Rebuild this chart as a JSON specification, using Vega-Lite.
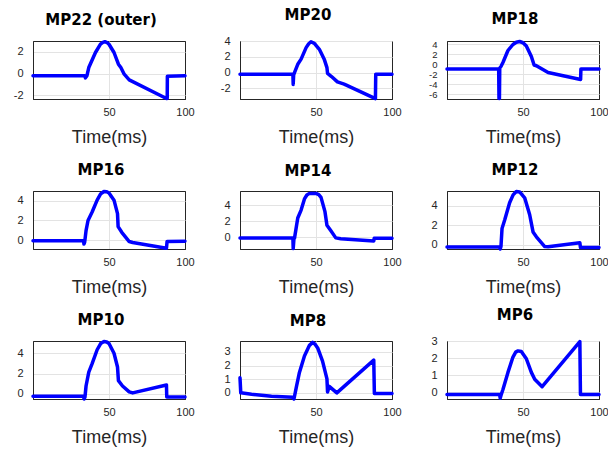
{
  "$schema": "https://vega.github.io/schema/vega-lite/v6.json",
  "padding": {"left": 12, "top": 7, "right": 0, "bottom": 0},
  "background": "white",
  "datasets": {
    "d": [
      {"p": "MP22", "t": 0, "v": -0.2}, {"p": "MP22", "t": 34, "v": -0.2}, {"p": "MP22", "t": 34.5, "v": -0.4}, {"p": "MP22", "t": 35.5, "v": -0.2}, {"p": "MP22", "t": 36.7, "v": 0.55}, {"p": "MP22", "t": 41.1, "v": 1.94}, {"p": "MP22", "t": 44.4, "v": 2.71}, {"p": "MP22", "t": 46, "v": 2.88}, {"p": "MP22", "t": 47.3, "v": 2.94}, {"p": "MP22", "t": 48.7, "v": 2.86}, {"p": "MP22", "t": 50, "v": 2.7}, {"p": "MP22", "t": 53.3, "v": 1.94}, {"p": "MP22", "t": 56.2, "v": 0.86}, {"p": "MP22", "t": 57.8, "v": 0.55}, {"p": "MP22", "t": 60, "v": -0.06}, {"p": "MP22", "t": 63.3, "v": -0.58}, {"p": "MP22", "t": 87.8, "v": -2.3}, {"p": "MP22", "t": 88.3, "v": -2.3}, {"p": "MP22", "t": 88.4, "v": -0.25}, {"p": "MP22", "t": 100, "v": -0.2},

      {"p": "MP20", "t": 0, "v": -0.2}, {"p": "MP20", "t": 34.8, "v": -0.2}, {"p": "MP20", "t": 35, "v": -1.5}, {"p": "MP20", "t": 35.3, "v": -0.3}, {"p": "MP20", "t": 36.3, "v": 0.2}, {"p": "MP20", "t": 38, "v": 1.05}, {"p": "MP20", "t": 40.2, "v": 1.7}, {"p": "MP20", "t": 43.5, "v": 3.16}, {"p": "MP20", "t": 45.2, "v": 3.65}, {"p": "MP20", "t": 46.7, "v": 3.9}, {"p": "MP20", "t": 48.9, "v": 3.7}, {"p": "MP20", "t": 52.2, "v": 2.95}, {"p": "MP20", "t": 55.4, "v": 1.7}, {"p": "MP20", "t": 57.2, "v": 0.63}, {"p": "MP20", "t": 57.6, "v": -0.1}, {"p": "MP20", "t": 60.2, "v": -0.5}, {"p": "MP20", "t": 64.1, "v": -1.18}, {"p": "MP20", "t": 68.5, "v": -1.47}, {"p": "MP20", "t": 89.1, "v": -3.3}, {"p": "MP20", "t": 89.3, "v": -0.2}, {"p": "MP20", "t": 100, "v": -0.2},

      {"p": "MP18", "t": 0, "v": -1.0}, {"p": "MP18", "t": 34, "v": -1.0}, {"p": "MP18", "t": 34.2, "v": -6.9}, {"p": "MP18", "t": 34.5, "v": -6.9}, {"p": "MP18", "t": 34.7, "v": -0.8}, {"p": "MP18", "t": 35.5, "v": -0.5}, {"p": "MP18", "t": 36.8, "v": 0.3}, {"p": "MP18", "t": 40.1, "v": 2.7}, {"p": "MP18", "t": 43.4, "v": 3.9}, {"p": "MP18", "t": 45.6, "v": 4.35}, {"p": "MP18", "t": 47.8, "v": 4.5}, {"p": "MP18", "t": 50, "v": 4.25}, {"p": "MP18", "t": 52.2, "v": 3.6}, {"p": "MP18", "t": 55.5, "v": 1.5}, {"p": "MP18", "t": 57.3, "v": -0.2}, {"p": "MP18", "t": 58.8, "v": -0.35}, {"p": "MP18", "t": 66.5, "v": -1.7}, {"p": "MP18", "t": 87.9, "v": -3.1}, {"p": "MP18", "t": 88.1, "v": -1.0}, {"p": "MP18", "t": 100, "v": -1.0},

      {"p": "MP16", "t": 0, "v": -0.05}, {"p": "MP16", "t": 33.3, "v": -0.05}, {"p": "MP16", "t": 33.5, "v": -0.4}, {"p": "MP16", "t": 34, "v": -0.2}, {"p": "MP16", "t": 34.9, "v": 0.97}, {"p": "MP16", "t": 36.2, "v": 2}, {"p": "MP16", "t": 38.9, "v": 2.86}, {"p": "MP16", "t": 42.2, "v": 4.07}, {"p": "MP16", "t": 44.5, "v": 4.7}, {"p": "MP16", "t": 46.7, "v": 4.95}, {"p": "MP16", "t": 48.5, "v": 4.93}, {"p": "MP16", "t": 50, "v": 4.8}, {"p": "MP16", "t": 53.3, "v": 4.07}, {"p": "MP16", "t": 55.6, "v": 2.7}, {"p": "MP16", "t": 56, "v": 1.38}, {"p": "MP16", "t": 58.4, "v": 0.8}, {"p": "MP16", "t": 63.3, "v": -0.14}, {"p": "MP16", "t": 65.6, "v": -0.24}, {"p": "MP16", "t": 87.8, "v": -0.83}, {"p": "MP16", "t": 88.2, "v": -0.14}, {"p": "MP16", "t": 100, "v": -0.1},

      {"p": "MP14", "t": 0, "v": -0.1}, {"p": "MP14", "t": 34.8, "v": -0.1}, {"p": "MP14", "t": 35, "v": -1.45}, {"p": "MP14", "t": 35.5, "v": -0.2}, {"p": "MP14", "t": 35.9, "v": -0.1}, {"p": "MP14", "t": 38, "v": 2.4}, {"p": "MP14", "t": 40.2, "v": 3.4}, {"p": "MP14", "t": 42.4, "v": 4.8}, {"p": "MP14", "t": 44, "v": 5.3}, {"p": "MP14", "t": 45.7, "v": 5.5}, {"p": "MP14", "t": 50, "v": 5.5}, {"p": "MP14", "t": 51.8, "v": 5.35}, {"p": "MP14", "t": 53.3, "v": 5.0}, {"p": "MP14", "t": 55.9, "v": 3.2}, {"p": "MP14", "t": 57.2, "v": 1.5}, {"p": "MP14", "t": 59.8, "v": 0.8}, {"p": "MP14", "t": 63, "v": -0.1}, {"p": "MP14", "t": 66.3, "v": -0.2}, {"p": "MP14", "t": 88, "v": -0.5}, {"p": "MP14", "t": 88.3, "v": -0.15}, {"p": "MP14", "t": 100, "v": -0.15},

      {"p": "MP12", "t": 0, "v": -0.25}, {"p": "MP12", "t": 34.6, "v": -0.25}, {"p": "MP12", "t": 35, "v": -0.45}, {"p": "MP12", "t": 35.5, "v": -0.2}, {"p": "MP12", "t": 36.2, "v": 1.65}, {"p": "MP12", "t": 38, "v": 2.55}, {"p": "MP12", "t": 41.2, "v": 4.3}, {"p": "MP12", "t": 43.5, "v": 5.1}, {"p": "MP12", "t": 45.6, "v": 5.45}, {"p": "MP12", "t": 47.8, "v": 5.4}, {"p": "MP12", "t": 51.1, "v": 4.8}, {"p": "MP12", "t": 54.4, "v": 3.06}, {"p": "MP12", "t": 56.6, "v": 1.3}, {"p": "MP12", "t": 58.8, "v": 0.8}, {"p": "MP12", "t": 64.3, "v": -0.2}, {"p": "MP12", "t": 66.5, "v": -0.22}, {"p": "MP12", "t": 87.4, "v": 0.2}, {"p": "MP12", "t": 87.8, "v": -0.3}, {"p": "MP12", "t": 100, "v": -0.3},

      {"p": "MP10", "t": 0, "v": -0.24}, {"p": "MP10", "t": 33.3, "v": -0.24}, {"p": "MP10", "t": 33.6, "v": -0.5}, {"p": "MP10", "t": 34.2, "v": -0.3}, {"p": "MP10", "t": 34.9, "v": 0.78}, {"p": "MP10", "t": 36.7, "v": 2.14}, {"p": "MP10", "t": 38.9, "v": 2.98}, {"p": "MP10", "t": 42.2, "v": 4.34}, {"p": "MP10", "t": 44.5, "v": 4.95}, {"p": "MP10", "t": 46.7, "v": 5.15}, {"p": "MP10", "t": 48.5, "v": 5.1}, {"p": "MP10", "t": 50, "v": 4.95}, {"p": "MP10", "t": 53.3, "v": 4.0}, {"p": "MP10", "t": 55.6, "v": 2.64}, {"p": "MP10", "t": 56.2, "v": 1.3}, {"p": "MP10", "t": 58.9, "v": 0.78}, {"p": "MP10", "t": 63.3, "v": 0.2}, {"p": "MP10", "t": 65.6, "v": 0.1}, {"p": "MP10", "t": 87.8, "v": 0.88}, {"p": "MP10", "t": 88, "v": -0.3}, {"p": "MP10", "t": 100, "v": -0.3},

      {"p": "MP8", "t": 0, "v": 1.1}, {"p": "MP8", "t": 0.5, "v": 0}, {"p": "MP8", "t": 7.6, "v": -0.1}, {"p": "MP8", "t": 20.7, "v": -0.24}, {"p": "MP8", "t": 34.8, "v": -0.33}, {"p": "MP8", "t": 35.5, "v": -0.45}, {"p": "MP8", "t": 37, "v": 0.38}, {"p": "MP8", "t": 39.1, "v": 1.5}, {"p": "MP8", "t": 42.4, "v": 2.7}, {"p": "MP8", "t": 45.7, "v": 3.48}, {"p": "MP8", "t": 47.8, "v": 3.7}, {"p": "MP8", "t": 49.5, "v": 3.55}, {"p": "MP8", "t": 51.1, "v": 3.29}, {"p": "MP8", "t": 54.3, "v": 2.33}, {"p": "MP8", "t": 57.2, "v": 1.02}, {"p": "MP8", "t": 57.6, "v": 0.07}, {"p": "MP8", "t": 58.7, "v": 0.48}, {"p": "MP8", "t": 63.7, "v": 0}, {"p": "MP8", "t": 88, "v": 2.4}, {"p": "MP8", "t": 88.4, "v": -0.05}, {"p": "MP8", "t": 100, "v": -0.05},

      {"p": "MP6", "t": 0, "v": -0.14}, {"p": "MP6", "t": 34.6, "v": -0.14}, {"p": "MP6", "t": 35, "v": -0.35}, {"p": "MP6", "t": 35.5, "v": -0.2}, {"p": "MP6", "t": 36.8, "v": 0.16}, {"p": "MP6", "t": 40.1, "v": 1.16}, {"p": "MP6", "t": 43.4, "v": 2.06}, {"p": "MP6", "t": 45.2, "v": 2.35}, {"p": "MP6", "t": 46.7, "v": 2.42}, {"p": "MP6", "t": 48.9, "v": 2.38}, {"p": "MP6", "t": 52.2, "v": 1.96}, {"p": "MP6", "t": 55.5, "v": 1.16}, {"p": "MP6", "t": 57.7, "v": 0.76}, {"p": "MP6", "t": 59.5, "v": 0.6}, {"p": "MP6", "t": 62.6, "v": 0.32}, {"p": "MP6", "t": 87.4, "v": 2.97}, {"p": "MP6", "t": 87.8, "v": -0.14}, {"p": "MP6", "t": 100, "v": -0.14}
    ]
  },
  "data": {"name": "d"},
  "columns": 3,
  "spacing": {"row": 92, "column": 55},
  "bounds": "flush",
  "concat": [
    {"title": "MP22 (outer)", "width": 152, "height": 58, "transform": [{"filter": "datum.p === 'MP22'"}], "mark": {"type": "line", "color": "#0000ff", "strokeWidth": 3.5, "strokeCap": "round", "strokeJoin": "round"},
     "encoding": {"x": {"field": "t", "type": "quantitative", "scale": {"domain": [0, 100], "nice": false, "zero": false}, "axis": {"values": [50, 100], "title": "Time(ms)"}},
                  "y": {"field": "v", "type": "quantitative", "scale": {"domain": [-2.35, 3.0], "nice": false, "zero": false}, "axis": {"values": [-2, 0, 2]}}}},
    {"title": "MP20", "width": 152, "height": 58, "transform": [{"filter": "datum.p === 'MP20'"}], "mark": {"type": "line", "color": "#0000ff", "strokeWidth": 3.5, "strokeCap": "round", "strokeJoin": "round"},
     "encoding": {"x": {"field": "t", "type": "quantitative", "scale": {"domain": [0, 100], "nice": false, "zero": false}, "axis": {"values": [50, 100], "title": "Time(ms)"}},
                  "y": {"field": "v", "type": "quantitative", "scale": {"domain": [-3.35, 4.0], "nice": false, "zero": false}, "axis": {"values": [-2, 0, 2, 4]}}}},
    {"title": "MP18", "width": 152, "height": 58, "transform": [{"filter": "datum.p === 'MP18'"}], "mark": {"type": "line", "color": "#0000ff", "strokeWidth": 3.5, "strokeCap": "round", "strokeJoin": "round"},
     "encoding": {"x": {"field": "t", "type": "quantitative", "scale": {"domain": [0, 100], "nice": false, "zero": false}, "axis": {"values": [50, 100], "title": "Time(ms)"}},
                  "y": {"field": "v", "type": "quantitative", "scale": {"domain": [-7.0, 4.6], "nice": false, "zero": false}, "axis": {"values": [-6, -4, -2, 0, 2, 4], "labelFontSize": 9.5}}}},
    {"title": "MP16", "width": 152, "height": 58, "transform": [{"filter": "datum.p === 'MP16'"}], "mark": {"type": "line", "color": "#0000ff", "strokeWidth": 3.5, "strokeCap": "round", "strokeJoin": "round"},
     "encoding": {"x": {"field": "t", "type": "quantitative", "scale": {"domain": [0, 100], "nice": false, "zero": false}, "axis": {"values": [50, 100], "title": "Time(ms)"}},
                  "y": {"field": "v", "type": "quantitative", "scale": {"domain": [-0.9, 5.0], "nice": false, "zero": false}, "axis": {"values": [0, 2, 4]}}}},
    {"title": "MP14", "width": 152, "height": 58, "transform": [{"filter": "datum.p === 'MP14'"}], "mark": {"type": "line", "color": "#0000ff", "strokeWidth": 3.5, "strokeCap": "round", "strokeJoin": "round"},
     "encoding": {"x": {"field": "t", "type": "quantitative", "scale": {"domain": [0, 100], "nice": false, "zero": false}, "axis": {"values": [50, 100], "title": "Time(ms)"}},
                  "y": {"field": "v", "type": "quantitative", "scale": {"domain": [-1.5, 5.8], "nice": false, "zero": false}, "axis": {"values": [0, 2, 4]}}}},
    {"title": "MP12", "width": 152, "height": 58, "transform": [{"filter": "datum.p === 'MP12'"}], "mark": {"type": "line", "color": "#0000ff", "strokeWidth": 3.5, "strokeCap": "round", "strokeJoin": "round"},
     "encoding": {"x": {"field": "t", "type": "quantitative", "scale": {"domain": [0, 100], "nice": false, "zero": false}, "axis": {"values": [50, 100], "title": "Time(ms)"}},
                  "y": {"field": "v", "type": "quantitative", "scale": {"domain": [-0.45, 5.5], "nice": false, "zero": false}, "axis": {"values": [0, 2, 4]}}}},
    {"title": "MP10", "width": 152, "height": 58, "transform": [{"filter": "datum.p === 'MP10'"}], "mark": {"type": "line", "color": "#0000ff", "strokeWidth": 3.5, "strokeCap": "round", "strokeJoin": "round"},
     "encoding": {"x": {"field": "t", "type": "quantitative", "scale": {"domain": [0, 100], "nice": false, "zero": false}, "axis": {"values": [50, 100], "title": "Time(ms)"}},
                  "y": {"field": "v", "type": "quantitative", "scale": {"domain": [-0.5, 5.2], "nice": false, "zero": false}, "axis": {"values": [0, 2, 4]}}}},
    {"title": "MP8", "width": 152, "height": 58, "transform": [{"filter": "datum.p === 'MP8'"}], "mark": {"type": "line", "color": "#0000ff", "strokeWidth": 3.5, "strokeCap": "round", "strokeJoin": "round"},
     "encoding": {"x": {"field": "t", "type": "quantitative", "scale": {"domain": [0, 100], "nice": false, "zero": false}, "axis": {"values": [50, 100], "title": "Time(ms)"}},
                  "y": {"field": "v", "type": "quantitative", "scale": {"domain": [-0.45, 3.8], "nice": false, "zero": false}, "axis": {"values": [0, 1, 2, 3]}}}},
    {"title": "MP6", "width": 152, "height": 58, "transform": [{"filter": "datum.p === 'MP6'"}], "mark": {"type": "line", "color": "#0000ff", "strokeWidth": 3.5, "strokeCap": "round", "strokeJoin": "round"},
     "encoding": {"x": {"field": "t", "type": "quantitative", "scale": {"domain": [0, 100], "nice": false, "zero": false}, "axis": {"values": [50, 100], "title": "Time(ms)"}},
                  "y": {"field": "v", "type": "quantitative", "scale": {"domain": [-0.4, 3.0], "nice": false, "zero": false}, "axis": {"values": [0, 1, 2, 3]}}}}
  ],
  "config": {
    "view": {"stroke": "#262626", "strokeWidth": 1},
    "axis": {"gridColor": "#e3e3e3", "gridWidth": 1, "domain": true, "domainColor": "#262626", "domainWidth": 1, "ticks": false, "labelFont": "Liberation Sans", "labelFontSize": 11, "labelColor": "#262626", "labelFlush": false, "labelOverlap": false, "labelExpr": "'' + datum.value"},
    "axisX": {"labelPadding": 7, "titleFont": "Liberation Sans", "titleFontSize": 18, "titleFontWeight": "normal", "titleColor": "#262626", "titlePadding": 11, "gridColor": {"condition": {"test": "datum.value === 100", "value": "#262626"}, "value": "#e3e3e3"}},
    "axisY": {"title": null, "labelPadding": 10},
    "title": {"font": "DejaVu Sans", "fontSize": 15, "fontWeight": "bold", "color": "#000000", "offset": 12, "dx": -8}
  }
}
